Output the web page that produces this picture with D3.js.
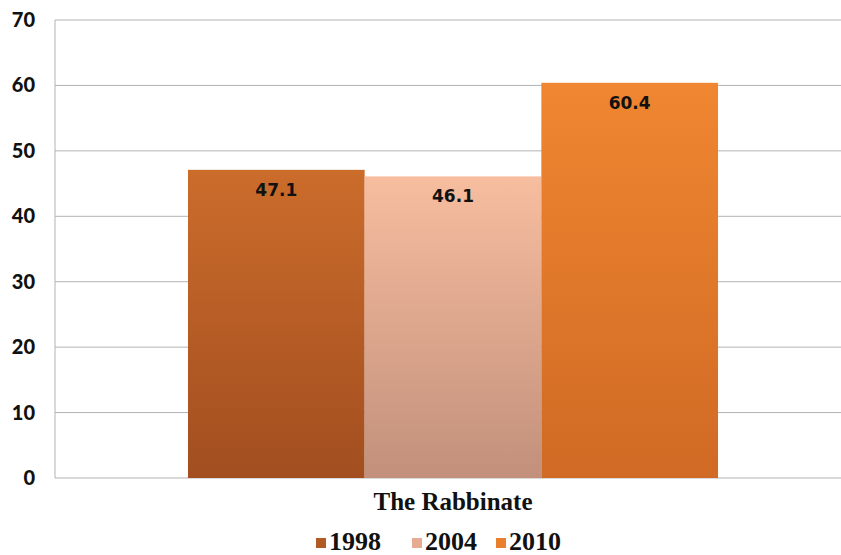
<!DOCTYPE html>
<html><head><meta charset="utf-8">
<script src="https://cdn.jsdelivr.net/npm/d3@7"></script>
<style>body{margin:0;background:#fff;}svg{display:block;}</style>
</head><body>
<svg id="chart" width="841" height="555"></svg>
<script>
const categories = ["The Rabbinate"];
const seriesNames = ["1998", "2004", "2010"];
const values = [47.1, 46.1, 60.4];
const yTicks = [0, 10, 20, 30, 40, 50, 60, 70];
const colorsTop = ["#cb6c2b", "#f7bd9f", "#f08631"];
const colorsBottom = ["#a24e20", "#c2907b", "#d06a24"];
const swatch = ["#b05a24", "#e6ab90", "#ea7f2d"];

const svg = d3.select("#chart");
const m = {left: 55, right: 841, top: 20, bottom: 478};
const y = d3.scaleLinear().domain([0, 70]).range([m.bottom, m.top]);
const x0 = d3.scaleBand().domain(categories).range([m.left + 10, m.right]).paddingInner(0).paddingOuter(0.232);
const x1 = d3.scaleBand().domain(seriesNames).range([0, x0.bandwidth()]).padding(0);

const defs = svg.append("defs");
seriesNames.forEach((s, i) => {
  const g = defs.append("linearGradient").attr("id", "g" + i).attr("x1", 0).attr("x2", 0).attr("y1", 0).attr("y2", 1);
  g.append("stop").attr("offset", "0%").attr("stop-color", colorsTop[i]);
  g.append("stop").attr("offset", "100%").attr("stop-color", colorsBottom[i]);
});

// gridlines
svg.append("g").selectAll("line").data(yTicks).join("line")
  .attr("x1", m.left).attr("x2", m.right)
  .attr("y1", d => y(d)).attr("y2", d => y(d))
  .attr("stroke", "#b3b3b3").attr("stroke-width", 1);
svg.append("line").attr("x1", m.left).attr("x2", m.left).attr("y1", m.top).attr("y2", m.bottom)
  .attr("stroke", "#b3b3b3").attr("stroke-width", 1);

// y labels
svg.append("g").selectAll("text").data(yTicks).join("text")
  .attr("x", 35).attr("y", d => y(d)).attr("dy", "0.35em")
  .attr("text-anchor", "end")
  .attr("font-family", "Lato, 'DejaVu Sans', sans-serif").attr("font-weight", "900").attr("font-size", 20)
  .attr("fill", "#111").text(d => d);

// bars
const data = seriesNames.map((s, i) => ({s, v: values[i], i}));
svg.append("g").selectAll("rect").data(data).join("rect")
  .attr("x", d => x0(categories[0]) + x1(d.s))
  .attr("width", x1.bandwidth())
  .attr("y", d => y(d.v))
  .attr("height", d => y(0) - y(d.v))
  .attr("fill", d => `url(#g${d.i})`);

// value labels
svg.append("g").selectAll("text").data(data).join("text")
  .attr("x", d => x0(categories[0]) + x1(d.s) + x1.bandwidth() / 2)
  .attr("y", d => y(d.v) + 20)
  .attr("dy", "0.35em")
  .attr("text-anchor", "middle")
  .attr("font-family", "'DejaVu Sans', sans-serif").attr("font-weight", "bold").attr("font-size", 17)
  .attr("fill", "#111").text(d => d.v.toFixed(1));

// category label
svg.append("text").attr("x", x0(categories[0]) + x0.bandwidth() / 2).attr("y", 501).attr("dy", "0.35em")
  .attr("text-anchor", "middle")
  .attr("font-family", "'Liberation Serif', 'Times New Roman', serif").attr("font-weight", "bold").attr("font-size", 25)
  .attr("fill", "#111").text(categories[0]);

// legend
const legX = [316, 412, 496];
const leg = svg.append("g").selectAll("g").data(data).join("g")
  .attr("transform", d => `translate(${legX[d.i]},541)`);
leg.append("rect").attr("x", 0).attr("y", -3).attr("width", 10).attr("height", 10).attr("fill", d => swatch[d.i]);
leg.append("text").attr("x", 13).attr("y", 0).attr("dy", "0.33em")
  .attr("font-family", "'Liberation Serif', 'Times New Roman', serif").attr("font-weight", "bold").attr("font-size", 26)
  .attr("fill", "#111").text(d => d.s);
</script>
</body></html>
